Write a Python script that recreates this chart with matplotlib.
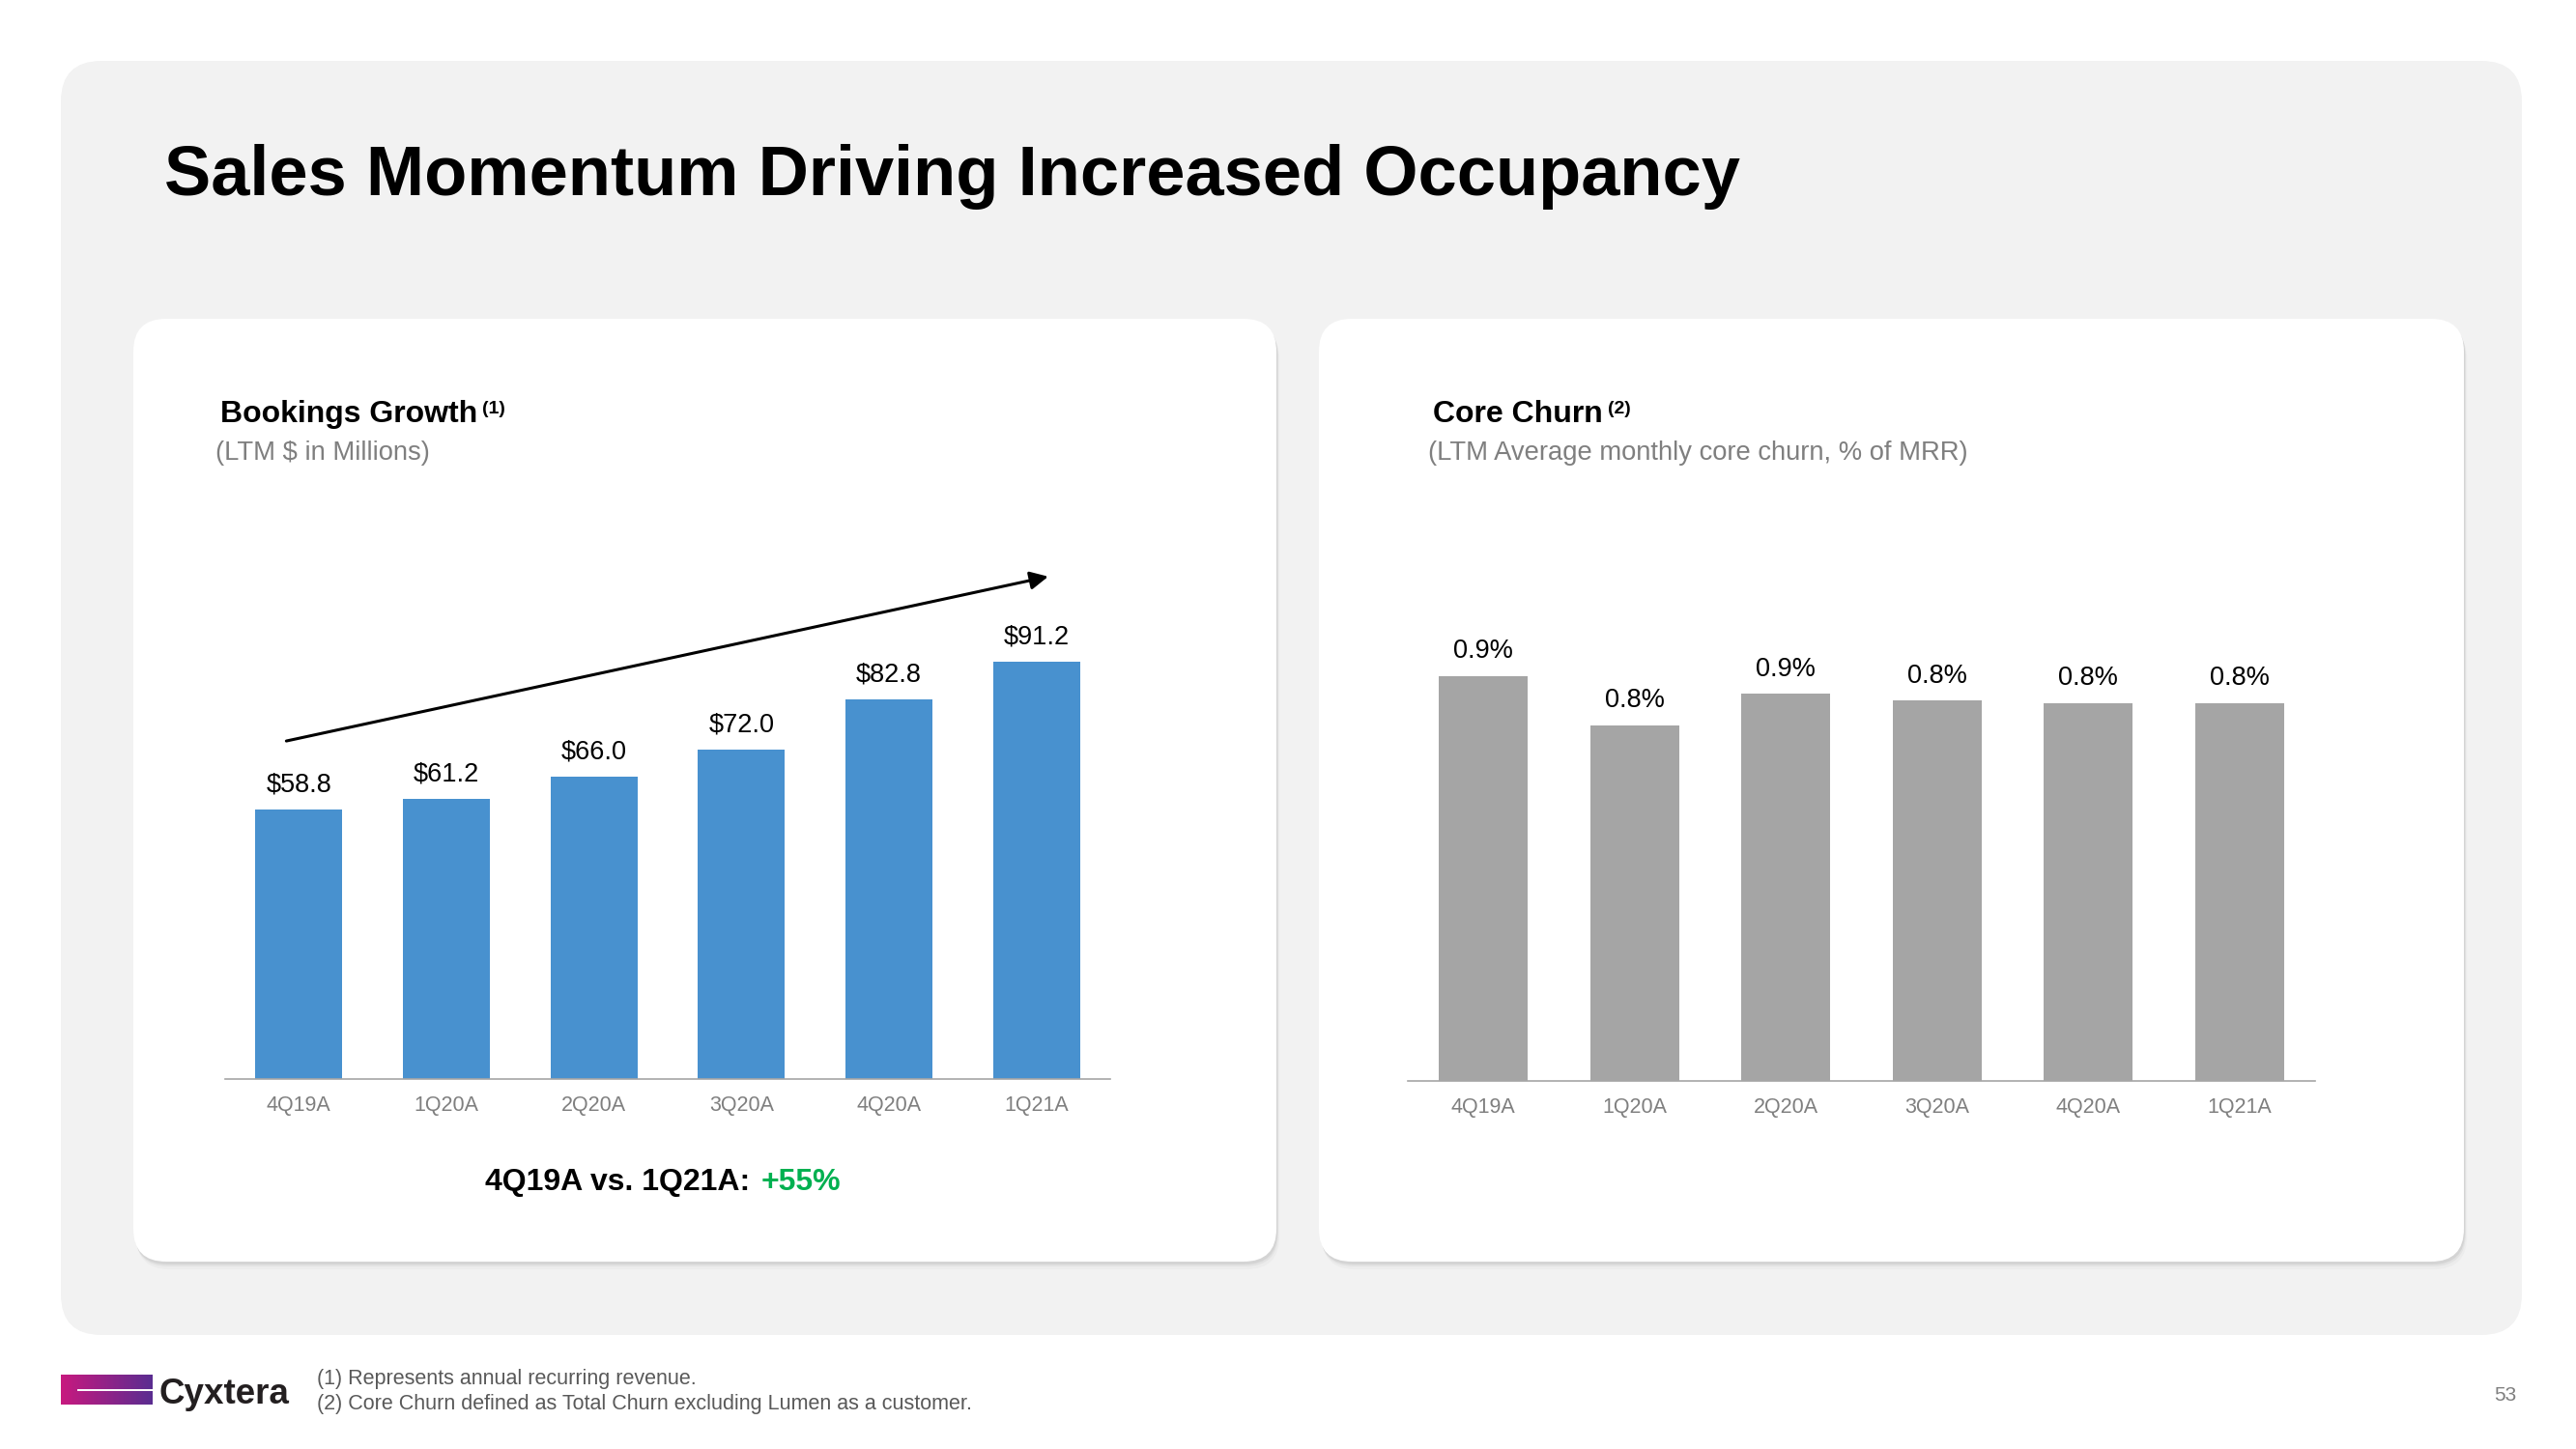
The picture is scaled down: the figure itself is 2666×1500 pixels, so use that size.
import matplotlib
matplotlib.use('Agg')
import matplotlib.pyplot as plt
import numpy as np
from matplotlib.patches import FancyBboxPatch
from matplotlib.colors import to_rgb

## Data
quarters = ['4Q19A', '1Q20A', '2Q20A', '3Q20A', '4Q20A', '1Q21A']
bookings = [58.8, 61.2, 66.0, 72.0, 82.8, 91.2]           # LTM $M
core_churn = [0.90, 0.79, 0.86, 0.845, 0.84, 0.84]         # % of MRR

title = 'Sales Momentum Driving Increased Occupancy'
footnotes = ['(1) Represents annual recurring revenue.',
             '(2) Core Churn defined as Total Churn excluding Lumen as a customer.']

plt.rcParams['font.family'] = ['Liberation Sans', 'DejaVu Sans']

W, H = 2666, 1500
fig = plt.figure(figsize=(W / 100, H / 100), dpi=100)
fx = lambda x: x / W
fy = lambda y: 1 - y / H

## background layer in pixel coordinates (y down)
bg = fig.add_axes([0, 0, 1, 1], zorder=0)
bg.set_xlim(0, W); bg.set_ylim(H, 0); bg.axis('off')

bg.add_patch(FancyBboxPatch((63, 63), 2547, 1319, boxstyle='round,pad=0,rounding_size=42',
                            fc='#f2f2f2', ec='none'))
for x0, x1 in [(138, 1321), (1365, 2550)]:
    for off, a in [(8, 0.025), (5, 0.04), (3, 0.06)]:
        bg.add_patch(FancyBboxPatch((x0 + off * 0.4, 330 + off), x1 - x0, 976,
                                    boxstyle='round,pad=0,rounding_size=34', fc='black', ec='none', alpha=a))
    bg.add_patch(FancyBboxPatch((x0, 330), x1 - x0, 976, boxstyle='round,pad=0,rounding_size=34',
                                fc='white', ec='none'))

## logo
c0, c1 = np.array(to_rgb('#c8197f')), np.array(to_rgb('#5a2d91'))
t = np.linspace(0, 1, 200)[None, :, None]
bg.imshow(c0 + (c1 - c0) * t, extent=(63, 158, 1454, 1423), aspect='auto', zorder=2)
bg.plot([80, 158], [1438.5, 1438.5], color='white', lw=1.4, zorder=3, solid_capstyle='butt')
bg.set_xlim(0, W); bg.set_ylim(H, 0)
fig.text(fx(164), fy(1453), 'Cyxtera', fontsize=26.5, weight='bold', color='#231f20', va='baseline')

## title
fig.text(fx(170), fy(202), title, fontsize=52, weight='bold', color='black', va='baseline')

## footnotes + page number
for i, s in enumerate(footnotes):
    fig.text(fx(328), fy(1428 + 26 * i), s, fontsize=15.5, color='#595959', va='center')
fig.text(fx(2593), fy(1445), '53', fontsize=15, color='#7f7f7f', va='center', ha='center')


def header(x, y, text, sup, sub):
    h = bg.text(x, y, text, fontsize=23, weight='bold', color='black', va='baseline', zorder=5)
    bg.annotate(sup, xy=(1, 1), xycoords=h, xytext=(5, -1), textcoords='offset pixels',
                fontsize=14, weight='bold', color='black', va='top', ha='left', zorder=5)
    bg.text(x - 5, y + 39, sub, fontsize=19.7, color='#7f7f7f', va='baseline', zorder=5)


def style_axes(ax):
    for sp in ['top', 'right', 'left']:
        ax.spines[sp].set_visible(False)
    ax.spines['bottom'].set_color('#a6a6a6')
    ax.spines['bottom'].set_linewidth(1.2)
    ax.set_yticks([])
    ax.set_xlim(-0.5, len(quarters) - 0.5)
    ax.set_xticks(range(len(quarters)))
    ax.set_xticklabels(quarters, fontsize=15.5, color='#7f7f7f')
    ax.tick_params(axis='x', length=0, pad=12)
    ax.patch.set_alpha(0)


## Bookings growth
ax1 = fig.add_axes([fx(233), fy(1117), (1149 - 233) / W, (1117 - 548) / H], zorder=2)
bars = ax1.bar(range(len(quarters)), bookings, width=0.59, color='#4891cf')
ax1.set_ylim(0, 120)
ax1.bar_label(bars, labels=['${:.1f}'.format(v) for v in bookings], padding=9, fontsize=19.5, color='black')
style_axes(ax1)
ax1.annotate('', xy=(len(bookings) - 1 + 0.08, bookings[-1] + 18.5), xytext=(-0.085, bookings[0] + 15),
             arrowprops=dict(arrowstyle='-|>', color='black', lw=2.2, mutation_scale=28, shrinkA=0, shrinkB=0),
             annotation_clip=False)
header(228, 437, 'Bookings Growth', '(1)', '(LTM $ in Millions)')

t1 = bg.text(502, 1224, '4Q19A vs. 1Q21A:', fontsize=23, weight='bold', color='black', va='center', zorder=5)
bg.annotate('+55%', xy=(1, 0.5), xycoords=t1, xytext=(11, 0), textcoords='offset pixels',
            fontsize=23, weight='bold', color='#00b050', va='center', ha='left', zorder=5)

## Core churn
ax2 = fig.add_axes([fx(1457), fy(1119), (2396 - 1457) / W, (1119 - 560) / H], zorder=2)
bars = ax2.bar(range(len(quarters)), core_churn, width=0.59, color='#a5a5a5')
ax2.set_ylim(0, 1.2)
ax2.bar_label(bars, labels=['{:.1f}%'.format(v) for v in core_churn], padding=9, fontsize=19.5, color='black')
style_axes(ax2)
header(1483, 437, 'Core Churn', '(2)', '(LTM Average monthly core churn, % of MRR)')

fig.savefig('out.png', dpi=100)
